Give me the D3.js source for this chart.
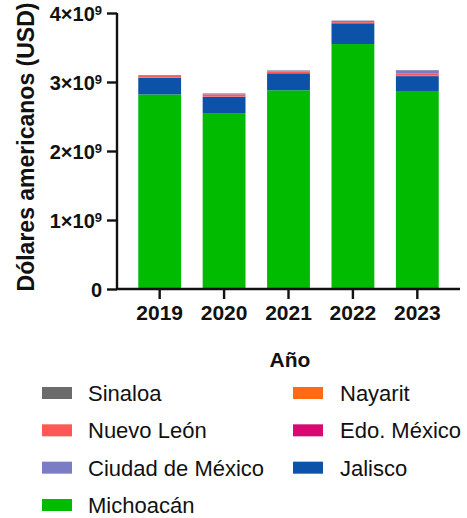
<!DOCTYPE html>
<html>
<head>
<meta charset="utf-8">
<script src="https://cdn.jsdelivr.net/npm/d3@7"></script>
<style>
  body { margin: 0; background: #fff; }
  svg text { font-family: Arial, "Liberation Sans", sans-serif; fill: #111; }
</style>
</head>
<body>
<div id="chart"></div>
<script>
// -------------------------------------------------------------------------
// Data (USD)
const years = ['2019', '2020', '2021', '2022', '2023'];
const states = ['Michoacán', 'Jalisco', 'Edo. México', 'Nayarit', 'Nuevo León', 'Ciudad de México', 'Sinaloa'];
const michoacan = [2.82e9, 2.55e9, 2.88e9, 3.55e9, 2.87e9];
const jalisco = [0.24e9, 0.235e9, 0.245e9, 0.30e9, 0.215e9];
const edoMexico = [0.004e9, 0.004e9, 0.004e9, 0.004e9, 0.008e9];
const nayarit = [0.002e9, 0.002e9, 0.002e9, 0.002e9, 0.002e9];
const nuevoLeon = [0.02e9, 0.03e9, 0.02e9, 0.012e9, 0.025e9];
const cdmx = [0.012e9, 0.012e9, 0.015e9, 0.02e9, 0.05e9];
const sinaloa = [0.003e9, 0.003e9, 0.003e9, 0.003e9, 0.003e9];
const yTicks = [0, 1e9, 2e9, 3e9, 4e9];

// legend order as in the figure (two columns)
const legendLeft = ['Sinaloa', 'Nuevo León', 'Ciudad de México', 'Michoacán'];
const legendRight = ['Nayarit', 'Edo. México', 'Jalisco'];

const colors = {
  'Sinaloa': '#6b6b6b',
  'Nayarit': '#ff6a13',
  'Nuevo León': '#ff5656',
  'Edo. México': '#d7086f',
  'Ciudad de México': '#7a7dc4',
  'Jalisco': '#0b52a8',
  'Michoacán': '#00bb00'
};

const seriesValues = {
  'Michoacán': michoacan,
  'Jalisco': jalisco,
  'Edo. México': edoMexico,
  'Nayarit': nayarit,
  'Nuevo León': nuevoLeon,
  'Ciudad de México': cdmx,
  'Sinaloa': sinaloa
};

const rows = years.map((year, i) => {
  const row = { year: year };
  states.forEach(s => { row[s] = seriesValues[s][i]; });
  return row;
});

// -------------------------------------------------------------------------
// Layout
const width = 467;
const height = 518;
const plot = { left: 117, right: 460, top: 13, bottom: 289 };

const svg = d3.select('#chart')
  .append('svg')
  .attr('width', width)
  .attr('height', height);

const x = d3.scaleBand()
  .domain(years)
  .range([plot.left, plot.right])
  .paddingInner(0.335)
  .paddingOuter(0.33);

const y = d3.scaleLinear()
  .domain([0, 4e9])
  .range([plot.bottom, plot.top]);

// bars
const stacked = d3.stack().keys(states)(rows);
svg.append('g')
  .selectAll('g')
  .data(stacked)
  .join('g')
  .attr('fill', d => colors[d.key])
  .selectAll('rect')
  .data(d => d)
  .join('rect')
  .attr('x', d => x(d.data.year))
  .attr('width', x.bandwidth())
  .attr('y', d => y(d[1]))
  .attr('height', d => y(d[0]) - y(d[1]));

// y axis
const yAxis = svg.append('g')
  .attr('transform', `translate(${plot.left},0)`)
  .call(d3.axisLeft(y).tickValues(yTicks).tickSize(10).tickFormat(''));
yAxis.select('.domain').attr('stroke', '#111').attr('stroke-width', 2.4).attr('d', `M0,${plot.top}V${plot.bottom}`);
yAxis.selectAll('.tick line').attr('stroke', '#111').attr('stroke-width', 2.4);
yAxis.selectAll('.tick text').remove();
yAxis.selectAll('.tick').append('text')
  .attr('x', -15)
  .attr('dy', '0.36em')
  .attr('text-anchor', 'end')
  .style('font-size', '20px')
  .style('font-weight', 'bold')
  .each(function(d) {
    const t = d3.select(this);
    if (d === 0) {
      t.text('0');
    } else {
      t.append('tspan').text(`${d / 1e9}×10`);
      t.append('tspan').attr('dy', '-0.45em').style('font-size', '13px').text('9');
    }
  });

// x axis
const xAxis = svg.append('g')
  .attr('transform', `translate(0,${plot.bottom})`)
  .call(d3.axisBottom(x).tickSize(10).tickPadding(6));
xAxis.select('.domain').attr('stroke', '#111').attr('stroke-width', 2.4).attr('d', `M${plot.left},0H${plot.right}`);
xAxis.selectAll('.tick line').attr('stroke', '#111').attr('stroke-width', 2.4);
xAxis.selectAll('.tick text')
  .style('font-size', '21px')
  .style('font-weight', 'bold')
  .attr('fill', '#111');

// axis titles
svg.append('text')
  .attr('transform', `translate(34,${(plot.top + plot.bottom) / 2 - 4}) rotate(-90)`)
  .attr('text-anchor', 'middle')
  .style('font-size', '23px')
  .style('font-weight', 'bold')
  .text('Dólares americanos (USD)');

svg.append('text')
  .attr('x', 290)
  .attr('y', 367)
  .attr('text-anchor', 'middle')
  .style('font-size', '21px')
  .style('font-weight', 'bold')
  .text('Año');

// legend
const legendRowY = d3.scalePoint().domain(d3.range(4)).range([393, 505]);
const legendCols = [
  { names: legendLeft, swatchX: 42, textX: 88 },
  { names: legendRight, swatchX: 293, textX: 340 }
];
legendCols.forEach(col => {
  const item = svg.append('g')
    .selectAll('g')
    .data(col.names)
    .join('g')
    .attr('transform', (d, i) => `translate(0,${legendRowY(i)})`);
  item.append('rect')
    .attr('x', col.swatchX)
    .attr('y', -6)
    .attr('width', 30)
    .attr('height', 12)
    .attr('fill', d => colors[d]);
  item.append('text')
    .attr('x', col.textX)
    .attr('dy', '0.36em')
    .style('font-size', '22px')
    .text(d => d);
});
</script>
</body>
</html>
